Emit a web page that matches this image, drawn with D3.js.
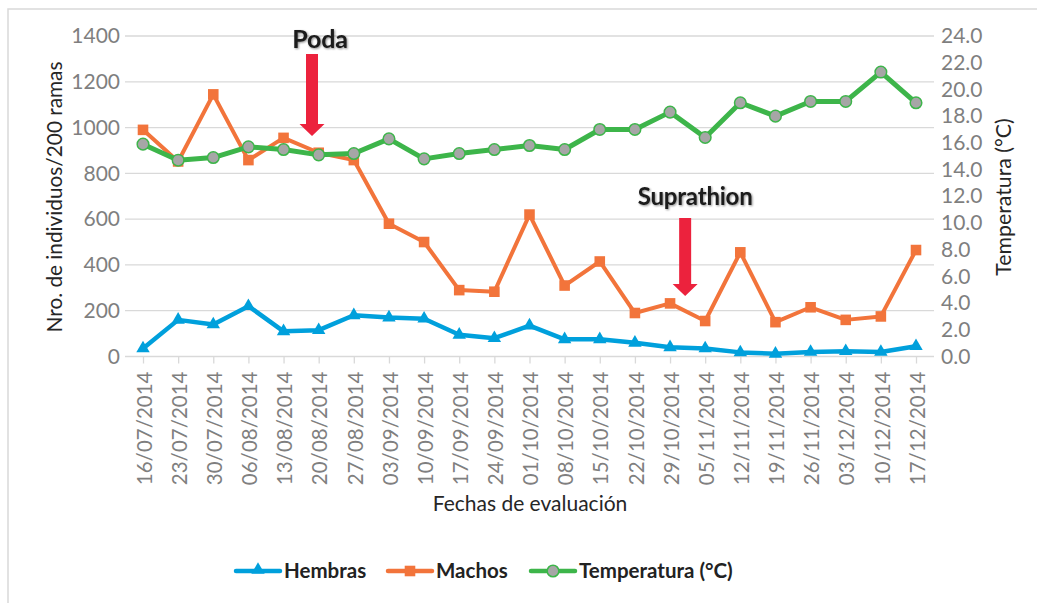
<!DOCTYPE html>
<html>
<head>
<meta charset="utf-8">
<script src="https://cdn.jsdelivr.net/npm/d3@7"></script>
<style>
  body { margin: 0; background: #fff; }
  svg { display: block; font-family: Lato, 'Open Sans', sans-serif; }
</style>
</head>
<body>
<svg id="chart" width="1037" height="603"></svg>
<script>
const fechas = ['16/07/2014', '23/07/2014', '30/07/2014', '06/08/2014', '13/08/2014', '20/08/2014',
  '27/08/2014', '03/09/2014', '10/09/2014', '17/09/2014', '24/09/2014', '01/10/2014', '08/10/2014',
  '15/10/2014', '22/10/2014', '29/10/2014', '05/11/2014', '12/11/2014', '19/11/2014', '26/11/2014',
  '03/12/2014', '10/12/2014', '17/12/2014'];
const hembras = [35, 160, 140, 220, 110, 115, 180, 170, 165, 95, 80, 135, 75, 75, 60, 40, 35,
  18, 12, 20, 23, 20, 45];
const machos = [990, 852, 1145, 858, 955, 890, 858, 580, 500, 290, 283, 620, 310, 415, 190, 232,
  155, 455, 150, 215, 160, 175, 465];
const temperatura = [15.9, 14.7, 14.9, 15.7, 15.5, 15.1, 15.2, 16.3, 14.8, 15.2, 15.5, 15.8, 15.5,
  17.0, 17.0, 18.3, 16.4, 19.0, 18.0, 19.1, 19.1, 21.3, 19.0];
const leftTicks = [0, 200, 400, 600, 800, 1000, 1200, 1400];
const rightTicks = [0, 2, 4, 6, 8, 10, 12, 14, 16, 18, 20, 22, 24];
const anotaciones = [
  { label: 'Poda', at: '20/08/2014', shift: -0.19 },
  { label: 'Suprathion', at: '29/10/2014', shift: 0.43 },
];

const AZUL = '#00a0dc';
const NARANJA = '#f2743b';
const VERDE = '#3db54a';
const GRIS = '#d9d9d9';

const svg = d3.select('#chart');
const plotTop = 36;
const plotBottom = 356.5;

const x = d3.scalePoint().domain(fechas).range([143, 916]);
const yL = d3.scaleLinear().domain([0, 1400]).range([plotBottom, plotTop]);
const yR = d3.scaleLinear().domain([0, 24]).range([plotBottom, plotTop]);

// chart frame (only top/left edges are visible)
svg.append('path')
  .attr('d', 'M8,603V9H1037')
  .attr('fill', 'none')
  .attr('stroke', GRIS)
  .attr('stroke-width', 1.5);

// gridlines
svg.append('g').selectAll('line')
  .data(leftTicks.slice(1))
  .enter().append('line')
  .attr('x1', 125).attr('x2', 934)
  .attr('y1', function(d) { return yL(d); })
  .attr('y2', function(d) { return yL(d); })
  .attr('stroke', GRIS)
  .attr('stroke-width', 1.3);

// bottom axis
const xAxis = svg.append('g')
  .attr('transform', 'translate(0,' + plotBottom + ')')
  .call(d3.axisBottom(x).tickSize(7).tickSizeOuter(0).tickPadding(0));
xAxis.select('.domain').attr('d', 'M125,0H934').attr('stroke', GRIS).attr('stroke-width', 1.5);
xAxis.selectAll('.tick line').attr('stroke', GRIS).attr('stroke-width', 1.3);
xAxis.selectAll('.tick text')
  .attr('transform', 'rotate(-90)')
  .attr('x', -15)
  .attr('y', 1)
  .attr('dy', '0.35em')
  .attr('text-anchor', 'end')
  .attr('fill', '#7f7f7f')
  .style('font-size', '20.5px')
  .style('font-family', 'Lato, sans-serif');

// left axis labels
const leftAxis = svg.append('g')
  .attr('transform', 'translate(120,0)')
  .call(d3.axisLeft(yL).tickValues(leftTicks).tickFormat(d3.format('d')).tickSize(0).tickPadding(0));
leftAxis.select('.domain').remove();
leftAxis.selectAll('text')
  .attr('fill', '#7f7f7f')
  .style('font-size', '21px')
  .style('font-family', 'Lato, sans-serif');

// right axis labels
const rightAxis = svg.append('g')
  .attr('transform', 'translate(941,0)')
  .call(d3.axisRight(yR).tickValues(rightTicks).tickFormat(d3.format('.1f')).tickSize(0).tickPadding(0));
rightAxis.select('.domain').remove();
rightAxis.selectAll('text')
  .attr('fill', '#7f7f7f')
  .style('font-size', '21px')
  .style('font-family', 'Lato, sans-serif');

// axis titles
svg.append('text')
  .attr('transform', 'translate(55,197) rotate(-90)')
  .attr('text-anchor', 'middle')
  .attr('dy', '0.35em')
  .attr('fill', '#262626')
  .style('font-size', '20.8px')
  .text('Nro. de individuos/200 ramas');
svg.append('text')
  .attr('transform', 'translate(1004,197) rotate(-90)')
  .attr('text-anchor', 'middle')
  .attr('dy', '0.35em')
  .attr('fill', '#262626')
  .style('font-size', '21.3px')
  .text('Temperatura (°C)');
svg.append('text')
  .attr('x', 530).attr('y', 504)
  .attr('text-anchor', 'middle')
  .attr('dy', '0.35em')
  .attr('fill', '#262626')
  .style('font-size', '21px')
  .text('Fechas de evaluación');

const triangle = d3.symbol().type(d3.symbolTriangle).size(78);
const square = d3.symbol().type(d3.symbolSquare).size(112);

function drawSeries(values, yScale, color, width) {
  const line = d3.line()
    .x(function(d, i) { return x(fechas[i]); })
    .y(function(d) { return yScale(d); });
  svg.append('path')
    .datum(values)
    .attr('d', line)
    .attr('fill', 'none')
    .attr('stroke', color)
    .attr('stroke-width', width)
    .attr('stroke-linejoin', 'round');
  return svg.append('g').selectAll('.m')
    .data(values)
    .enter();
}

drawSeries(hembras, yL, AZUL, 4.5).append('path')
  .attr('transform', function(d, i) { return 'translate(' + x(fechas[i]) + ',' + yL(d) + ')'; })
  .attr('d', triangle)
  .attr('fill', AZUL);

drawSeries(machos, yL, NARANJA, 4).append('path')
  .attr('transform', function(d, i) { return 'translate(' + x(fechas[i]) + ',' + yL(d) + ')'; })
  .attr('d', square)
  .attr('fill', NARANJA);

drawSeries(temperatura, yR, VERDE, 5).append('circle')
  .attr('cx', function(d, i) { return x(fechas[i]); })
  .attr('cy', function(d) { return yR(d); })
  .attr('r', 5.8)
  .attr('fill', '#a6a6a6')
  .attr('stroke', VERDE)
  .attr('stroke-width', 1.5);

// annotations with arrows
const defs = svg.append('defs');
const blur = defs.append('filter').attr('id', 'sombra').attr('x', '-10%').attr('y', '-20%')
  .attr('width', '120%').attr('height', '150%');
blur.append('feGaussianBlur').attr('in', 'SourceAlpha').attr('stdDeviation', 1).attr('result', 'b');
blur.append('feOffset').attr('in', 'b').attr('dx', 0.5).attr('dy', 0.5).attr('result', 'o');
blur.append('feComponentTransfer').attr('in', 'o').attr('result', 's')
  .append('feFuncA').attr('type', 'linear').attr('slope', 0.45);
const merge = blur.append('feMerge');
merge.append('feMergeNode').attr('in', 's');
merge.append('feMergeNode').attr('in', 'SourceGraphic');

// Poda sits at the top of the plot, Suprathion just above the 600 gridline
const layout = {
  Poda: { textDx: 8, textY: 48, top: 54, tip: 136, size: 25 },
  Suprathion: { textDx: 10, textY: 205, top: 218, tip: 296, size: 24 },
};
anotaciones.forEach(function(a) {
  const p = layout[a.label];
  const cx = x(a.at) + a.shift * x.step();
  svg.append('text')
    .attr('x', cx + p.textDx)
    .attr('y', p.textY)
    .attr('text-anchor', 'middle')
    .attr('fill', '#1a1a1a')
    .attr('filter', 'url(#sombra)')
    .style('font-weight', 'bold')
    .style('font-size', p.size + 'px')
    .style('letter-spacing', '-0.2px')
    .text(a.label);
  const head = p.tip - 12;
  svg.append('path')
    .attr('d', 'M' + (cx - 6) + ',' + p.top + 'H' + (cx + 6) + 'V' + head + 'H' + (cx + 12.5)
      + 'L' + cx + ',' + p.tip + 'L' + (cx - 12.5) + ',' + head + 'H' + (cx - 6) + 'Z')
    .attr('fill', '#ec223d');
});

// legend
const leyenda = [
  { label: 'Hembras', color: AZUL, x0: 236, marker: 'tri' },
  { label: 'Machos', color: NARANJA, x0: 388, marker: 'sq' },
  { label: 'Temperatura (°C)', color: VERDE, x0: 531, marker: 'circ' },
];
const ly = 571;
leyenda.forEach(function(l) {
  const g = svg.append('g');
  g.append('line')
    .attr('x1', l.x0).attr('x2', l.x0 + 44)
    .attr('y1', ly).attr('y2', ly)
    .attr('stroke', l.color)
    .attr('stroke-width', 4.5)
    .attr('stroke-linecap', 'round');
  const mx = l.x0 + 22;
  if (l.marker === 'tri') {
    g.append('path').attr('transform', 'translate(' + mx + ',' + (ly - 1) + ')')
      .attr('d', triangle).attr('fill', l.color);
  } else if (l.marker === 'sq') {
    g.append('path').attr('transform', 'translate(' + mx + ',' + ly + ')')
      .attr('d', square).attr('fill', l.color);
  } else {
    g.append('circle').attr('cx', mx).attr('cy', ly).attr('r', 5.8)
      .attr('fill', '#a6a6a6').attr('stroke', l.color).attr('stroke-width', 1.5);
  }
  g.append('text')
    .attr('x', l.x0 + 48).attr('y', ly)
    .attr('dy', '0.36em')
    .attr('fill', '#222')
    .style('font-weight', 'bold')
    .style('font-size', '20.5px')
    .text(l.label);
});
</script>
</body>
</html>
